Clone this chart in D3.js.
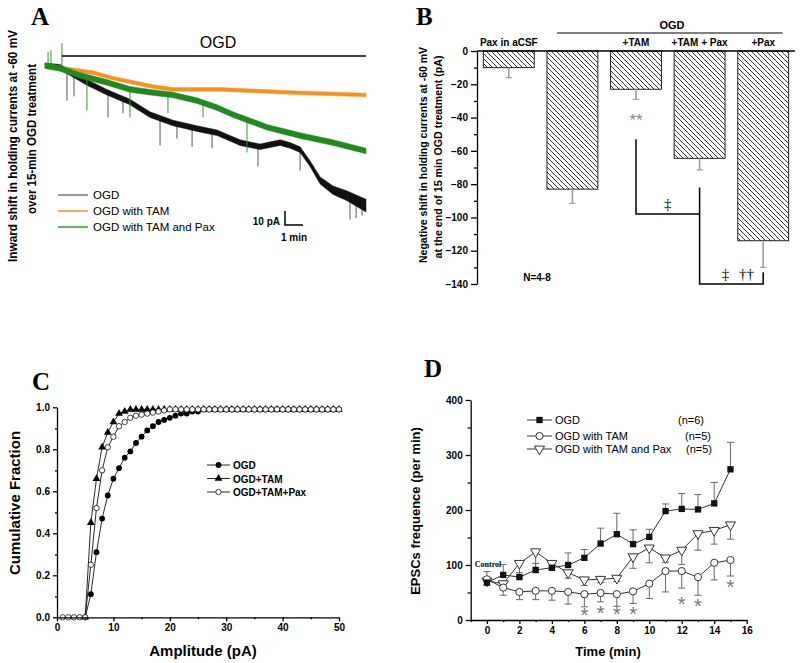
<!DOCTYPE html>
<html><head><meta charset="utf-8">
<script src="https://cdn.jsdelivr.net/npm/d3@7"></script>
<style>
body{margin:0;background:#fff}
svg{display:block}
</style></head><body>
<svg id="fig" width="800" height="663" font-family="'Liberation Sans', Arial, sans-serif"></svg>
<script>
// ================= DATA =================
// Panel A: holding-current traces (time in min, current in pA relative to start)
const aOGDTime      = [0, 0.83, 2.33, 3.44, 4.72, 5.83, 7.11, 8.44, 9.56, 10.83, 11.94, 13.06, 13.61, 14.17, 14.72, 15.28, 16.0, 16.78, 17.83];
const aOGDCurrent   = [1, 0, -11, -18, -25, -34, -40, -44, -47, -54, -57, -54, -56, -59, -69, -81, -88, -92, -99];
const aOGDNoise     = [1.8, 1.8, 2, 2, 2, 2, 2, 2, 2, 2, 2, 2, 2, 2, 2, 2.5, 3, 3.5, 4.5];
const aTAMTime      = [0, 1.56, 2.67, 3.78, 4.89, 6.0, 7.11, 8.44, 9.72, 13.22, 17.83];
const aTAMCurrent   = [1, -2, -4, -8, -11, -14, -16, -16, -16, -18, -20];
const aTAMNoise     = [1.3, 1.3, 1.3, 1.3, 1.3, 1.3, 1.3, 1.3, 1.3, 1.3, 1.3];
const aPaxTime      = [0, 0.83, 1.94, 3.44, 4.72, 5.83, 7.11, 8.44, 9.56, 10.44, 12.33, 14.17, 16.0, 17.83];
const aPaxCurrent   = [1, -1, -6, -11, -16, -18, -20, -24, -29, -34, -43, -49, -54, -60];
const aPaxNoise     = [2, 2, 2, 2, 2, 2, 2, 2, 2, 2, 2, 2, 2, 2];
// transient spikes (time, peak current)
const aOGDSpikeTime = [1.22, 1.61, 3.5, 4.33, 6.39, 7.33, 8.17, 9.28, 11.83, 14.17, 16.94, 17.28, 17.61];
const aOGDSpikePeak = [-24, -21, -36, -33, -56, -51, -57, -58, -71, -74, -109, -108, -106];
const aPaxSpikeTime = [0.17, 0.33, 0.94, 2.33, 4.72, 6.83, 8.78, 11.22];
const aPaxSpikePeak = [11, 12, 17, -31, -36, -33, -36, -61];
const aOGDPeriod    = [0.94, 17.83];
const aLegend       = ["OGD", "OGD with TAM", "OGD with TAM and Pax"];
const aScaleBar     = {pA: 10, min: 1, labelY: "10 pA", labelX: "1 min"};

// Panel B: bar chart
const bIds     = ["aCSF+Pax", "OGD", "OGD+TAM", "OGD+TAM+Pax", "OGD+Pax"];
const bLabels  = ["Pax in aCSF", "", "+TAM", "+TAM + Pax", "+Pax"];
const bMeans   = [-10, -83, -23, -64.5, -114];
const bErrors  = [6, 8.5, 6, 7, 16];
const bTicks   = [-140, -120, -100, -80, -60, -40, -20, 0];

// Panel C: cumulative amplitude distributions
const cAmpOGD = [5,6,7,8,9,10,11,12,13,14,15,16,17,18,19,20,21,22,23,24,25,26,27,28,29,30,31,32,33,34,35,36,37,38,39,40,41,42,43,44,45,46,47,48,49,50];
const cOGD    = [0,0.11,0.31,0.47,0.58,0.66,0.71,0.76,0.79,0.83,0.86,0.89,0.91,0.93,0.94,0.95,0.96,0.97,0.97,0.98,0.98,0.99,0.99,0.99,0.99,0.99,0.99,0.99,0.99,0.99,0.99,0.99,0.99,0.99,0.99,0.99,0.99,0.99,0.99,0.99,0.99,0.99,0.99,0.99,0.99,0.99];
const cAmpTAM = [5,6,7,8,9,10,11,12,13,14,15,16,17,18,19,20,21,22,23,24,25,26,27,28,29,30,31,32,33,34,35,36,37,38,39,40,41,42,43,44,45,46,47,48,49,50];
const cTAM    = [0,0.45,0.66,0.81,0.88,0.93,0.97,0.98,0.99,0.99,0.99,0.99,0.99,0.99,0.99,0.99,0.99,0.99,0.99,0.99,0.99,0.99,0.99,0.99,0.99,0.99,0.99,0.99,0.99,0.99,0.99,0.99,0.99,0.99,0.99,0.99,0.99,0.99,0.99,0.99,0.99,0.99,0.99,0.99,0.99,0.99];
const cAmpPax = [1,2,3,4,5,6,7,8,9,10,11,12,13,14,15,16,17,18,19,20,21,22,23,24,25,26,27,28,29,30,31,32,33,34,35,36,37,38,39,40,41,42,43,44,45,46,47,48,49,50];
const cPax    = [0,0,0,0,0,0.25,0.52,0.70,0.81,0.86,0.91,0.93,0.95,0.96,0.965,0.97,0.975,0.98,0.985,0.99,0.99,0.99,0.99,0.99,0.99,0.99,0.99,0.99,0.99,0.99,0.99,0.99,0.99,0.99,0.99,0.99,0.99,0.99,0.99,0.99,0.99,0.99,0.99,0.99,0.99,0.99,0.99,0.99,0.99,0.99];
const cLegend = ["OGD", "OGD+TAM", "OGD+TAM+Pax"];

// Panel D: EPSC frequency over time
const dTime       = [0,1,2,3,4,5,6,7,8,9,10,11,12,13,14,15];
const dOGD        = [68, 82, 78, 91, 95, 100, 113, 139, 156, 138, 151, 198, 202, 201, 212, 274];
const dOGDErrUp   = [20, 19, 8, 12, 10, 22, 15, 28, 38, 26, 14, 13, 28, 27, 38, 49];
const dTAM        = [74, 59, 51, 53, 53, 51, 47, 49, 47, 52, 66, 89, 89, 78, 104, 109];
const dTAMErrDown = [10, 14, 14, 16, 17, 22, 23, 16, 22, 22, 27, 38, 31, 33, 31, 29];
const dPax        = [71, 66, 103, 124, 103, 86, 73, 74, 76, 115, 131, 113, 127, 157, 163, 173];
const dPaxErrDown = [0, 0, 24, 38, 12, 10, 10, 6, 6, 21, 27, 8, 26, 30, 25, 26];
const dStarTime   = [6, 7, 8, 9, 12, 13, 15];
const dStarValue  = [13, 16, 14, 14, 33, 30, 64];
const dLegend     = ["OGD", "OGD with TAM", "OGD with TAM and Pax"];
const dN          = ["(n=6)", "(n=5)", "(n=5)"];

// ================= DRAW =================
const svg = d3.select("#fig");
svg.append("rect").attr("width", 800).attr("height", 663).attr("fill", "#fff");
const FONT = "'Liberation Sans', Arial, sans-serif";
const SERIF = "'Liberation Serif', 'Times New Roman', serif";

function styleAxis(g, fs) {
  g.attr("font-family", FONT).attr("font-size", fs).attr("font-weight", "bold");
  g.selectAll("path,line").attr("stroke", "#000").attr("stroke-width", 1.3);
  g.selectAll("text").attr("fill", "#000");
}

// panel letters
[["A", 31, 25], ["B", 416, 25], ["C", 32, 390], ["D", 424, 377]].forEach(([t, x, y]) =>
  svg.append("text").attr("x", x).attr("y", y).text(t)
    .attr("font-family", SERIF).attr("font-weight", "bold").attr("font-size", 25));

// ---------- Panel A ----------
{
  const g = svg.append("g");
  const x = d3.scaleLinear().domain([0, 17.83]).range([45, 366]);
  const y = d3.scaleLinear().domain([0, -100]).range([67, 207]);
  const area = d3.area().x(d => x(d.t)).y0(d => y(d.c + d.n)).y1(d => y(d.c - d.n));
  function trace(ts, cs, ns, color, spT, spP, spColor) {
    const pts = ts.map((t, i) => ({t, c: cs[i], n: ns[i]}));
    const base = d3.scaleLinear().domain(ts).range(cs);
    if (spT) spT.forEach((t, i) => {
      g.append("line").attr("x1", x(t)).attr("x2", x(t))
        .attr("y1", y(base(t))).attr("y2", y(spP[i]))
        .attr("stroke", spColor).attr("stroke-width", 1);
    });
    g.append("path").datum(pts).attr("d", area).attr("fill", color).attr("stroke", color).attr("stroke-width", 0.5);
  }
  trace(aOGDTime, aOGDCurrent, aOGDNoise, "#111", aOGDSpikeTime, aOGDSpikePeak, "#555");
  trace(aTAMTime, aTAMCurrent, aTAMNoise, "#f7901e");
  trace(aPaxTime, aPaxCurrent, aPaxNoise, "#1f8a1f", aPaxSpikeTime, aPaxSpikePeak, "#2e9a2e");

  // OGD bar
  g.append("line").attr("x1", x(aOGDPeriod[0])).attr("x2", x(aOGDPeriod[1]))
    .attr("y1", 56).attr("y2", 56).attr("stroke", "#000").attr("stroke-width", 1.5);
  g.append("text").attr("x", 218).attr("y", 48).attr("text-anchor", "middle")
    .attr("font-size", 16).text("OGD");

  // legend
  const lc = ["#777", "#f7901e", "#2e9a2e"];
  aLegend.forEach((l, i) => {
    const yy = 195 + i * 16;
    g.append("line").attr("x1", 58).attr("x2", 88).attr("y1", yy).attr("y2", yy)
      .attr("stroke", lc[i]).attr("stroke-width", 1.5);
    g.append("text").attr("x", 93).attr("y", yy + 4).attr("font-size", 11.5).text(l);
  });

  // scale bar
  const t0 = 13.33, c0 = -112.9;
  g.append("path").attr("d", `M${x(t0)},${y(c0 + aScaleBar.pA)}V${y(c0)}H${x(t0 + aScaleBar.min)}`)
    .attr("fill", "none").attr("stroke", "#000").attr("stroke-width", 1.5);
  g.append("text").attr("x", x(t0) - 5).attr("y", y(c0) + 0).attr("text-anchor", "end")
    .attr("font-size", 10).attr("font-weight", "bold").text(aScaleBar.labelY);
  g.append("text").attr("x", x(t0 + aScaleBar.min / 2)).attr("y", y(c0) + 16).attr("text-anchor", "middle")
    .attr("font-size", 10).attr("font-weight", "bold").text(aScaleBar.labelX);

  // y label
  [["Inward shift in holding currents at -60 mV", 17, 146, 232], ["over  15-min OGD treatment", 36, 139, 150]].forEach(([t, xx, yy, len]) =>
    g.append("text").attr("transform", `translate(${xx},${yy}) rotate(-90)`).attr("text-anchor", "middle")
      .attr("font-size", 12).attr("font-weight", "bold").attr("textLength", len)
      .attr("lengthAdjust", "spacingAndGlyphs").text(t));
}

// ---------- Panel B ----------
{
  const g = svg.append("g");
  const defs = svg.append("defs");
  defs.append("pattern").attr("id", "hatch").attr("patternUnits", "userSpaceOnUse")
    .attr("width", 5).attr("height", 5)
    .append("path").attr("d", "M-1,-1L6,6M-1,4L1,6M4,-1L6,1")
    .attr("stroke", "#222").attr("stroke-width", 0.9);
  const x = d3.scaleBand().domain(bIds).range([477, 795]).paddingInner(0.2).paddingOuter(0.1);
  const y = d3.scaleLinear().domain([-140, 0]).range([284, 51]);
  const bw = x.bandwidth();

  g.selectAll("rect.bar").data(bIds).join("rect").attr("class", "bar")
    .attr("x", d => x(d)).attr("width", bw)
    .attr("y", y(0)).attr("height", (d, i) => y(bMeans[i]) - y(0))
    .attr("fill", "url(#hatch)").attr("stroke", "#222").attr("stroke-width", 1);

  bIds.forEach((d, i) => {
    const cx = x(d) + bw / 2;
    g.append("line").attr("x1", cx).attr("x2", cx).attr("y1", y(bMeans[i])).attr("y2", y(bMeans[i] - bErrors[i]))
      .attr("stroke", "#999").attr("stroke-width", 1.5);
    g.append("line").attr("x1", cx - 3).attr("x2", cx + 3).attr("y1", y(bMeans[i] - bErrors[i])).attr("y2", y(bMeans[i] - bErrors[i]))
      .attr("stroke", "#999").attr("stroke-width", 1.2);
    g.append("text").attr("x", cx).attr("y", 46).attr("text-anchor", "middle")
      .attr("font-size", 10).attr("font-weight", "bold").text(bLabels[i]);
  });

  const ax = g.append("g").attr("transform", "translate(477,0)")
    .call(d3.axisLeft(y).tickValues(bTicks).tickSize(6).tickSizeOuter(0).tickPadding(3));
  styleAxis(ax, 10);
  const axm = g.append("g").attr("transform", "translate(477,0)")
    .call(d3.axisLeft(y).tickValues(bTicks.slice(0, -1).map(v => v + 10)).tickSize(3).tickFormat(""));
  styleAxis(axm, 10);
  axm.select(".domain").remove();
  g.append("line").attr("x1", 477).attr("x2", 795).attr("y1", y(0)).attr("y2", y(0))
    .attr("stroke", "#000").attr("stroke-width", 1.5);

  // OGD header
  g.append("line").attr("x1", x("OGD") + 10).attr("x2", x("OGD+Pax") + bw - 6).attr("y1", 33).attr("y2", 33)
    .attr("stroke", "#000").attr("stroke-width", 1.2);
  g.append("text").attr("x", 672).attr("y", 29).attr("text-anchor", "middle")
    .attr("font-size", 11).attr("font-weight", "bold").text("OGD");

  // significance
  const c = id => x(id) + bw / 2;
  g.append("text").attr("x", c("OGD+TAM")).attr("y", y(-45)).attr("text-anchor", "middle")
    .attr("font-size", 17).attr("fill", "#888").text("**");
  g.append("path").attr("d",
    `M${c("OGD+TAM")},${y(-53)}V${y(-98)}H${c("OGD+TAM+Pax")}M${c("OGD+TAM+Pax")},${y(-82)}V${y(-140)}H${c("OGD+Pax")}V${y(-133)}`)
    .attr("fill", "none").attr("stroke", "#000").attr("stroke-width", 1.5);
  g.append("text").attr("x", (c("OGD+TAM") + c("OGD+TAM+Pax")) / 2).attr("y", y(-95)).attr("text-anchor", "middle")
    .attr("font-family", SERIF).attr("font-size", 15).text("‡");
  g.append("text").attr("x", c("OGD+TAM+Pax") + 26).attr("y", y(-137)).attr("text-anchor", "middle")
    .attr("font-family", SERIF).attr("font-size", 15).text("‡");
  g.append("text").attr("x", c("OGD+TAM+Pax") + 47).attr("y", y(-137)).attr("text-anchor", "middle")
    .attr("font-family", SERIF).attr("font-size", 15).text("††");
  g.append("text").attr("x", 537).attr("y", 281).attr("text-anchor", "middle")
    .attr("font-size", 10).attr("font-weight", "bold").text("N=4-8");

  [["Negative shift in holding currents at -60 mV", 427, 155, 216], ["at the end of 15 min OGD treatment (pA)", 442, 157, 203]].forEach(([t, xx, yy, len]) =>
    g.append("text").attr("transform", `translate(${xx},${yy}) rotate(-90)`).attr("text-anchor", "middle")
      .attr("font-size", 10).attr("font-weight", "bold").attr("textLength", len)
      .attr("lengthAdjust", "spacingAndGlyphs").text(t));
}

// ---------- Panel C ----------
{
  const g = svg.append("g");
  const x = d3.scaleLinear().domain([0, 50]).range([57, 339]);
  const y = d3.scaleLinear().domain([0, 1]).range([617.3, 407.3]);
  const line = d3.line().x(d => x(d[0])).y(d => y(d[1]));
  const sOGD = cAmpOGD.map((a, i) => [a, cOGD[i]]);
  const sTAM = cAmpTAM.map((a, i) => [a, cTAM[i]]);
  const sPax = cAmpPax.map((a, i) => [a, cPax[i]]);
  [sOGD, sTAM, sPax].forEach(s => g.append("path").datum(s).attr("d", line)
    .attr("fill", "none").attr("stroke", "#111").attr("stroke-width", 0.9));
  g.selectAll("circle.ogd").data(sOGD).join("circle").attr("class", "ogd")
    .attr("cx", d => x(d[0])).attr("cy", d => y(d[1])).attr("r", 2.9).attr("fill", "#000");
  const tri = d3.symbol().type(d3.symbolTriangle).size(26);
  g.selectAll("path.tam").data(sTAM).join("path").attr("class", "tam")
    .attr("transform", d => `translate(${x(d[0])},${y(d[1])})`).attr("d", tri).attr("fill", "#000");
  g.selectAll("circle.pax").data(sPax).join("circle").attr("class", "pax")
    .attr("cx", d => x(d[0])).attr("cy", d => y(d[1])).attr("r", 2.7)
    .attr("fill", "#fff").attr("stroke", "#111").attr("stroke-width", 0.8);

  const ax = g.append("g").attr("transform", "translate(0,617.3)")
    .call(d3.axisBottom(x).tickValues([0, 10, 20, 30, 40, 50]).tickSize(4).tickSizeOuter(0).tickPadding(3));
  styleAxis(ax, 10);
  const axm = g.append("g").attr("transform", "translate(0,617.3)")
    .call(d3.axisBottom(x).tickValues([5, 15, 25, 35, 45]).tickSize(2).tickFormat(""));
  styleAxis(axm, 10); axm.select(".domain").remove();
  const ay = g.append("g").attr("transform", "translate(57,0)")
    .call(d3.axisLeft(y).tickValues([0, 0.2, 0.4, 0.6, 0.8, 1]).tickFormat(d3.format(".1f")).tickSize(4).tickSizeOuter(0).tickPadding(3));
  styleAxis(ay, 10);
  const aym = g.append("g").attr("transform", "translate(57,0)")
    .call(d3.axisLeft(y).tickValues([0.1, 0.3, 0.5, 0.7, 0.9]).tickSize(2).tickFormat(""));
  styleAxis(aym, 10); aym.select(".domain").remove();

  g.append("text").attr("transform", "translate(20,503) rotate(-90)").attr("text-anchor", "middle")
    .attr("font-size", 15).attr("font-weight", "bold").text("Cumulative Fraction");
  g.append("text").attr("x", 203).attr("y", 656).attr("text-anchor", "middle")
    .attr("font-size", 15).attr("font-weight", "bold").text("Amplitude (pA)");

  cLegend.forEach((l, i) => {
    const yy = 465 + i * 13.5;
    g.append("line").attr("x1", 207).attr("x2", 230).attr("y1", yy).attr("y2", yy).attr("stroke", "#111").attr("stroke-width", 0.9);
    if (i === 0) g.append("circle").attr("cx", 218.5).attr("cy", yy).attr("r", 2.9).attr("fill", "#000");
    if (i === 1) g.append("path").attr("transform", `translate(218.5,${yy})`).attr("d", tri).attr("fill", "#000");
    if (i === 2) g.append("circle").attr("cx", 218.5).attr("cy", yy).attr("r", 2.7).attr("fill", "#fff").attr("stroke", "#111").attr("stroke-width", 0.8);
    g.append("text").attr("x", 233).attr("y", yy + 4).attr("font-size", 10).attr("font-weight", "bold").text(l);
  });
}

// ---------- Panel D ----------
{
  const g = svg.append("g");
  const x = d3.scaleLinear().domain([-1, 16]).range([470.7, 746.7]);
  const y = d3.scaleLinear().domain([0, 400]).range([620, 400]);
  const line = d3.line().x(d => x(d.t)).y(d => y(d.v));
  const mk = (vals, errs, dir) => dTime.map((t, i) => ({t, v: vals[i], e: errs[i], dir}));
  const sOGD = mk(dOGD, dOGDErrUp, 1), sTAM = mk(dTAM, dTAMErrDown, -1), sPax = mk(dPax, dPaxErrDown, -1);

  [sOGD, sTAM, sPax].forEach(s => {
    s.filter(d => d.e > 0).forEach(d => {
      const ye = y(d.v + d.dir * d.e);
      g.append("line").attr("x1", x(d.t)).attr("x2", x(d.t)).attr("y1", y(d.v)).attr("y2", ye)
        .attr("stroke", "#666").attr("stroke-width", 1);
      g.append("line").attr("x1", x(d.t) - 3.5).attr("x2", x(d.t) + 3.5).attr("y1", ye).attr("y2", ye)
        .attr("stroke", "#666").attr("stroke-width", 1);
    });
  });
  [sOGD, sTAM, sPax].forEach(s => g.append("path").datum(s).attr("d", line)
    .attr("fill", "none").attr("stroke", "#333").attr("stroke-width", 1));

  const sq = d3.symbol().type(d3.symbolSquare).size(40);
  const tri = d3.symbol().type(d3.symbolTriangle).size(44);
  g.selectAll("path.pax").data(sPax).join("path").attr("class", "pax")
    .attr("transform", d => `translate(${x(d.t)},${y(d.v)}) rotate(180)`).attr("d", tri)
    .attr("fill", "#fff").attr("stroke", "#333").attr("stroke-width", 1);
  g.selectAll("circle.tam").data(sTAM).join("circle").attr("class", "tam")
    .attr("cx", d => x(d.t)).attr("cy", d => y(d.v)).attr("r", 3.6)
    .attr("fill", "#fff").attr("stroke", "#333").attr("stroke-width", 1);
  g.selectAll("path.ogd").data(sOGD).join("path").attr("class", "ogd")
    .attr("transform", d => `translate(${x(d.t)},${y(d.v)})`).attr("d", sq).attr("fill", "#111");

  dStarTime.forEach((t, i) => g.append("text").attr("x", x(t)).attr("y", y(dStarValue[i]) + 9)
    .attr("text-anchor", "middle").attr("font-size", 20).attr("fill", "#777").text("*"));

  g.append("text").attr("x", 488).attr("y", 567).attr("text-anchor", "middle")
    .attr("font-family", SERIF).attr("font-weight", "bold").attr("font-size", 8).text("Control");

  const ax = g.append("g").attr("transform", "translate(0,620)")
    .call(d3.axisBottom(x).tickValues([0, 2, 4, 6, 8, 10, 12, 14, 16]).tickSize(4).tickSizeOuter(0).tickPadding(3));
  styleAxis(ax, 10);
  const axm = g.append("g").attr("transform", "translate(0,620)")
    .call(d3.axisBottom(x).tickValues([-1, 1, 3, 5, 7, 9, 11, 13, 15]).tickSize(2).tickFormat(""));
  styleAxis(axm, 10); axm.select(".domain").remove();
  const ay = g.append("g").attr("transform", "translate(470.7,0)")
    .call(d3.axisLeft(y).tickValues([0, 100, 200, 300, 400]).tickSize(5).tickSizeOuter(0).tickPadding(3));
  styleAxis(ay, 10);
  const aym = g.append("g").attr("transform", "translate(470.7,0)")
    .call(d3.axisLeft(y).tickValues([50, 150, 250, 350]).tickSize(3).tickFormat(""));
  styleAxis(aym, 10); aym.select(".domain").remove();

  g.append("text").attr("transform", "translate(420,511) rotate(-90)").attr("text-anchor", "middle")
    .attr("font-size", 13).attr("font-weight", "bold").text("EPSCs frequence (per min)");
  g.append("text").attr("x", 608).attr("y", 656).attr("text-anchor", "middle")
    .attr("font-size", 13).attr("font-weight", "bold").text("Time (min)");

  const nx = [678, 685, 686];
  dLegend.forEach((l, i) => {
    const yy = [420, 436, 449][i];
    g.append("line").attr("x1", 527).attr("x2", 552).attr("y1", yy).attr("y2", yy).attr("stroke", "#333").attr("stroke-width", 1);
    if (i === 0) g.append("path").attr("transform", `translate(539.5,${yy})`).attr("d", sq).attr("fill", "#111");
    if (i === 1) g.append("circle").attr("cx", 539.5).attr("cy", yy).attr("r", 3.6).attr("fill", "#fff").attr("stroke", "#333");
    if (i === 2) g.append("path").attr("transform", `translate(539.5,${yy}) rotate(180)`).attr("d", tri).attr("fill", "#fff").attr("stroke", "#333");
    g.append("text").attr("x", 555).attr("y", yy + 4).attr("font-size", 11).text(l);
    g.append("text").attr("x", nx[i]).attr("y", yy + 4).attr("font-size", 11).text(dN[i]);
  });
}
</script>
</body></html>
